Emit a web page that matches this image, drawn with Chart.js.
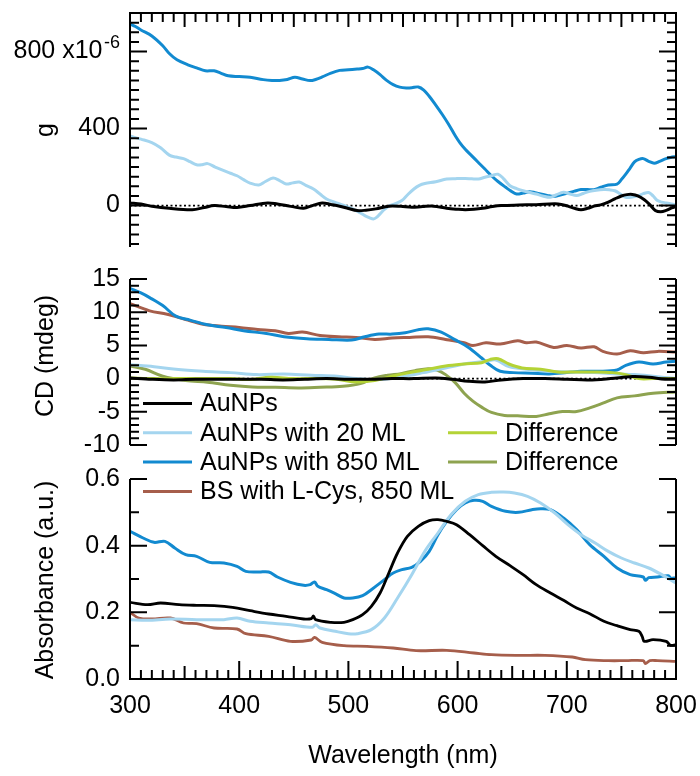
<!DOCTYPE html>
<html>
<head>
<meta charset="utf-8">
<script src="https://cdn.jsdelivr.net/npm/chart.js@4/dist/chart.umd.min.js"></script>
<style>
  html, body { margin: 0; padding: 0; background: #fff; }
  #fig { position: relative; width: 700px; height: 776px; overflow: hidden; }
  #fig canvas { position: absolute; left: 0; }
</style>
</head>
<body>
<div id="fig">
  <canvas id="cTop" width="700" height="262" style="top:0;width:700px;height:262px"></canvas>
  <canvas id="cAbs" width="700" height="311" style="top:465px;width:700px;height:311px"></canvas>
  <canvas id="cCd" width="700" height="258" style="top:262px;width:700px;height:258px"></canvas>
</div>
<script>
// ---- series: [wavelength (nm), value] ----
// g-factor (x10^-6)
const gAuNPs = [[300,14],[310,8],[320,-3],[336,-14],[357,-21],[368,-10],[377,0],[388,-5],[398,-10],[410,0],[426,14],[435,8],[443,0],[451,-8],[459,-14],[467,0],[476,14],[484,6],[492,-3],[500,-15],[508,-26],[516,-24],[525,-17],[537,-3],[548,-4],[558,-9],[568,-5],[578,-3],[590,-14],[600,-19],[607,-21],[615,-19],[623,-14],[632,-5],[640,0],[656,3],[672,5],[689,9],[695,6],[701,-3],[707,-14],[713,-21],[719,-14],[725,-3],[731,4],[738,18],[744,35],[750,50],[755,57],[760,58],[765,50],[771,30],[776,5],[781,-25],[786,-32],[791,-25],[796,-12],[800,-5]];
const g20ML = [[300,361],[310,345],[320,327],[328,300],[336,262],[342,252],[349,244],[355,228],[361,212],[366,212],[371,218],[378,200],[386,181],[392,168],[398,155],[404,135],[410,117],[418,107],[424,125],[431,143],[437,130],[443,112],[449,118],[455,122],[461,105],[468,86],[474,60],[480,34],[486,20],[492,9],[498,-4],[504,-17],[510,-35],[515,-52],[519,-62],[523,-69],[526,-60],[529,-43],[533,-20],[537,-3],[543,10],[549,26],[554,55],[560,86],[565,105],[570,115],[580,124],[590,138],[598,140],[607,141],[613,139],[619,138],[625,147],[631,155],[637,163],[642,140],[648,103],[654,88],[660,77],[666,68],[672,60],[678,50],[685,43],[690,55],[697,69],[703,60],[709,52],[715,63],[721,74],[727,80],[734,83],[739,82],[744,77],[749,60],[754,43],[760,45],[766,52],[770,62],[775,68],[779,50],[783,26],[787,18],[791,14],[796,8],[800,3]];
const g850ML = [[300,943],[305,930],[310,912],[320,881],[330,830],[336,790],[343,757],[353,731],[361,715],[369,700],[377,700],[383,688],[390,674],[400,670],[410,666],[422,654],[430,650],[437,650],[444,655],[451,666],[458,657],[465,649],[470,655],[476,668],[484,688],[492,702],[500,705],[508,709],[513,712],[518,719],[523,705],[529,680],[535,650],[541,628],[547,615],[553,611],[558,612],[564,616],[569,600],[574,568],[580,522],[586,473],[592,420],[598,361],[602,327],[607,292],[613,258],[619,224],[625,190],[631,155],[637,125],[644,95],[649,75],[654,60],[660,65],[666,72],[671,67],[676,60],[682,53],[688,48],[694,55],[701,65],[707,75],[713,83],[719,83],[725,83],[731,95],[738,107],[746,112],[750,135],[754,163],[758,195],[762,227],[766,240],[770,244],[775,230],[780,220],[785,230],[791,244],[795,250],[800,255]];

// CD (mdeg)
const cdAuNPs = [[300,0.1],[320,-0.1],[340,-0.2],[360,-0.1],[380,-0.1],[400,-0.1],[420,-0.1],[440,-0.2],[460,-0.1],[480,0],[500,-0.1],[520,-0.1],[540,0],[560,0],[580,0.1],[595,-0.1],[610,-0.4],[625,-0.5],[640,-0.2],[660,0],[680,0],[700,-0.1],[720,-0.2],[740,0],[760,0.3],[775,0.2],[790,-0.1],[800,-0.1]];
const cd20ML = [[300,2.1],[322,1.8],[342,1.4],[367,1.1],[392,0.9],[416,0.6],[441,0.7],[466,0.5],[490,0.35],[507,0],[527,-0.15],[548,0.25],[569,0.9],[589,1.6],[610,2.3],[626,2.6],[635,2.8],[647,1.8],[663,1.4],[684,1.1],[704,1.0],[725,0.9],[746,0.7],[762,0.6],[779,0.35],[800,0]];
const cd850ML = [[300,13.6],[310,12.9],[318,12.2],[330,11],[342,9.4],[355,8.8],[371,8.1],[388,7.7],[404,7.2],[425,6.8],[441,6.3],[462,6.0],[482,5.9],[503,5.8],[515,6.3],[528,6.7],[540,6.7],[552,6.9],[565,7.4],[573,7.5],[585,7.0],[597,5.9],[610,4.7],[622,3.1],[630,2.0],[639,1.1],[651,0.9],[668,0.8],[684,0.7],[700,0.9],[713,1.1],[729,1.1],[746,1.3],[754,2.0],[766,2.5],[779,2.2],[791,2.5],[800,2.6]];
const cdBSCys = [[300,11.3],[318,10.2],[334,9.7],[351,8.9],[367,8.2],[384,7.9],[400,7.7],[417,7.4],[433,7.2],[445,6.8],[458,7.0],[474,6.5],[491,6.3],[507,6.2],[524,5.9],[540,6.1],[556,6.2],[573,6.3],[589,5.9],[606,5.4],[614,5.0],[626,5.4],[639,5.2],[655,5.7],[663,5.4],[672,5.5],[688,4.7],[700,5.0],[713,4.6],[725,4.8],[733,4.1],[746,3.7],[758,4.2],[770,3.9],[783,4.1],[800,4.0]];
const cdDiff20 = [[300,0.1],[322,0],[342,0],[367,0],[392,0],[408,-0.15],[429,0.2],[449,0],[474,0],[491,-0.15],[507,-0.5],[524,-0.3],[540,0.35],[556,0.9],[573,1.4],[589,1.9],[606,2.2],[622,2.4],[630,2.9],[637,3.0],[647,2.2],[659,1.6],[676,1.4],[692,1.0],[709,1.0],[725,1.0],[742,0.9],[754,0.6],[766,0],[779,0],[800,0]];
const cdDiff850 = [[300,1.9],[314,1.4],[330,0.35],[351,-0.3],[371,-0.55],[392,-1.0],[412,-1.26],[433,-1.3],[454,-1.4],[474,-1.3],[495,-1.15],[511,-0.75],[524,0.1],[536,0.5],[548,0.75],[561,1.2],[573,1.5],[581,1.3],[589,0.6],[598,-0.65],[606,-2.2],[614,-3.4],[622,-4.3],[631,-5.1],[643,-5.55],[655,-5.6],[672,-5.7],[684,-5.3],[696,-4.95],[709,-4.95],[721,-4.4],[733,-3.7],[746,-2.9],[762,-2.6],[779,-2.2],[800,-2.0]];

// Absorbance (a.u.)
const absAuNPs = [[300,0.23],[316,0.223],[328,0.228],[345,0.223],[361,0.221],[377,0.22],[394,0.215],[410,0.205],[427,0.195],[443,0.188],[459,0.18],[466,0.181],[468,0.189],[470,0.178],[484,0.17],[496,0.17],[504,0.178],[513,0.193],[521,0.218],[529,0.258],[537,0.318],[545,0.378],[554,0.428],[564,0.458],[574,0.475],[582,0.478],[590,0.473],[599,0.463],[611,0.433],[623,0.40],[635,0.368],[648,0.34],[660,0.313],[672,0.283],[685,0.258],[697,0.236],[709,0.213],[721,0.196],[734,0.173],[746,0.16],[758,0.148],[766,0.143],[769,0.128],[771,0.113],[779,0.118],[791,0.113],[795,0.101],[800,0.103]];
const abs20ML = [[300,0.178],[316,0.176],[337,0.18],[361,0.178],[386,0.178],[398,0.183],[410,0.173],[427,0.168],[447,0.163],[467,0.155],[470,0.163],[474,0.153],[488,0.143],[500,0.136],[508,0.136],[521,0.148],[533,0.183],[545,0.243],[558,0.313],[570,0.383],[582,0.438],[594,0.493],[607,0.533],[619,0.553],[631,0.56],[642,0.561],[652,0.558],[664,0.548],[676,0.528],[689,0.498],[701,0.463],[713,0.433],[726,0.408],[738,0.383],[750,0.363],[762,0.348],[775,0.333],[787,0.313],[800,0.288]];
const abs850ML = [[300,0.443],[312,0.423],[322,0.41],[332,0.413],[341,0.393],[351,0.373],[361,0.368],[373,0.35],[386,0.348],[398,0.338],[406,0.323],[418,0.321],[427,0.321],[435,0.306],[447,0.29],[459,0.281],[465,0.283],[469,0.291],[472,0.278],[480,0.268],[488,0.256],[496,0.243],[504,0.243],[513,0.25],[521,0.268],[533,0.298],[541,0.318],[549,0.328],[558,0.335],[566,0.353],[574,0.383],[582,0.433],[590,0.473],[599,0.508],[607,0.528],[615,0.536],[623,0.533],[631,0.518],[644,0.503],[656,0.50],[668,0.508],[676,0.511],[685,0.508],[697,0.483],[709,0.448],[721,0.403],[734,0.368],[746,0.333],[758,0.313],[770,0.306],[772,0.296],[775,0.304],[783,0.306],[793,0.31],[795,0.303],[800,0.303]];
const absBSCys = [[300,0.20],[308,0.183],[320,0.18],[337,0.183],[349,0.168],[361,0.166],[377,0.153],[398,0.15],[406,0.136],[427,0.128],[447,0.113],[466,0.117],[469,0.125],[476,0.11],[496,0.10],[517,0.098],[541,0.093],[562,0.085],[590,0.086],[615,0.078],[631,0.073],[656,0.071],[680,0.071],[705,0.066],[717,0.058],[738,0.055],[754,0.055],[770,0.055],[772,0.046],[776,0.055],[783,0.055],[800,0.053]];

// axis tick labels
const xTickLabels = [300, 400, 500, 600, 700, 800];
const gTickLabels = [0, 400, 800];
const cdTickLabels = [-10, -5, 0, 5, 10, 15];
const absTickLabels = [0, 0.2, 0.4, 0.6];

// ---- styling ----
const FONT = '"Liberation Sans", Arial, Helvetica, sans-serif';
Chart.defaults.font.family = FONT;
Chart.defaults.font.size = 25;
Chart.defaults.color = '#000';

const COL = {
  au: '#000000',
  ml20: '#a4d5ef',
  ml850: '#128ad0',
  bs: '#a65e4b',
  d20: '#b4d336',
  d850: '#8ea350'
};

function line(label, pts, color, order, width) {
  return {
    label,
    data: pts.map(([x, y]) => ({ x, y })),
    borderColor: color,
    backgroundColor: color,
    borderWidth: width || 3,
    pointRadius: 0,
    tension: 0.35,
    fill: false,
    order
  };
}

// frame, inward tick marks, dotted zero line, axis titles
const framePlugin = {
  id: 'frame',
  beforeDatasetsDraw(chart, args, o) {
    if (!o.zeroLine) return;
    const { ctx, chartArea: a } = chart;
    const py = chart.scales.y.getPixelForValue(0);
    ctx.save();
    ctx.strokeStyle = '#000';
    ctx.lineWidth = 1.6;
    ctx.setLineDash([2, 2.5]);
    ctx.beginPath();
    ctx.moveTo(a.left, py);
    ctx.lineTo(a.right, py);
    ctx.stroke();
    ctx.restore();
  },
  afterDatasetsDraw(chart, args, o) {
    const { ctx, chartArea: a } = chart;
    const xs = chart.scales.x, ys = chart.scales.y;
    const mult = (v, s) => Math.abs(v / s - Math.round(v / s)) < 1e-6;
    ctx.save();
    ctx.strokeStyle = '#000';
    ctx.lineWidth = 2;
    ctx.lineCap = 'butt';
    ctx.beginPath();
    ctx.moveTo(a.left, a.top - (o.topEdge ? 1 : 0));
    ctx.lineTo(a.left, a.bottom + (o.bottomEdge ? 1 : 0));
    ctx.moveTo(a.right, a.top - (o.topEdge ? 1 : 0));
    ctx.lineTo(a.right, a.bottom + (o.bottomEdge ? 1 : 0));
    if (o.topEdge) { ctx.moveTo(a.left, a.top); ctx.lineTo(a.right, a.top); }
    if (o.bottomEdge) { ctx.moveTo(a.left, a.bottom); ctx.lineTo(a.right, a.bottom); }
    const i0 = Math.ceil(ys.min / o.yMinor - 1e-6), i1 = Math.floor(ys.max / o.yMinor + 1e-6);
    for (let i = i0; i <= i1; i++) {
      const v = i * o.yMinor;
      const len = mult(v, o.yMajor) ? 17 : 9;
      const py = ys.getPixelForValue(v);
      ctx.moveTo(a.left, py); ctx.lineTo(a.left + len, py);
      ctx.moveTo(a.right, py); ctx.lineTo(a.right - len, py);
    }
    if (o.xEdge) {
      const ey = o.xEdge === 'top' ? a.top : a.bottom;
      const dir = o.xEdge === 'top' ? 1 : -1;
      for (let v = xs.min; v <= xs.max; v += o.xMinor) {
        let len = o.xLen[0];
        if (o.xMajor && mult(v, o.xMajor)) len = o.xLen[2];
        else if (mult(v, o.xMid)) len = o.xLen[1];
        const px = xs.getPixelForValue(v);
        ctx.moveTo(px, ey); ctx.lineTo(px, ey + dir * len);
      }
    }
    ctx.stroke();
    ctx.restore();
  },
  afterDraw(chart, args, o) {
    const { ctx, chartArea: a } = chart;
    ctx.save();
    ctx.fillStyle = '#000';
    ctx.font = `25px ${FONT}`;
    ctx.textAlign = 'center';
    ctx.textBaseline = 'middle';
    (o.titles || []).forEach(t => {
      ctx.save();
      ctx.translate(t.x, t.y);
      if (t.rotate) ctx.rotate(-Math.PI / 2);
      ctx.fillText(t.text, 0, 0);
      ctx.restore();
    });
    // exponent after the scaled tick label
    if (o.exponent) {
      const py = chart.scales.y.getPixelForValue(o.exponent.value);
      ctx.font = `18px ${FONT}`;
      ctx.textAlign = 'right';
      ctx.textBaseline = 'alphabetic';
      ctx.fillText(o.exponent.text, a.left - 10, py - 4);
    }
    ctx.restore();
  }
};

// legend drawn from the CD panel's datasets
const legendSlots = [[0, 0], [0, 1], [0, 2], [0, 3], [1, 1], [1, 2]];
const legendPlugin = {
  id: 'panelLegend',
  afterDraw(chart, args, o) {
    const { ctx } = chart;
    ctx.save();
    ctx.font = `25px ${FONT}`;
    ctx.textAlign = 'left';
    ctx.textBaseline = 'middle';
    chart.data.datasets.forEach((d, i) => {
      const [col, row] = legendSlots[i];
      const x0 = o.colX[col];
      const y = o.rowY0 + row * o.rowStep;
      ctx.strokeStyle = d.borderColor;
      ctx.lineWidth = 3;
      ctx.beginPath();
      ctx.moveTo(x0, y);
      ctx.lineTo(x0 + o.sample, y);
      ctx.stroke();
      ctx.fillStyle = '#000';
      ctx.fillText(d.label, x0 + o.sample + o.gap, y + 1);
    });
    ctx.restore();
  }
};

// fixed-size axes: no extra room reserved for labels that overhang the plot edges
function yAxis(min, max, labels, fmt) {
  return {
    type: 'linear', min, max,
    grid: { display: false, drawTicks: false },
    border: { display: false },
    afterFit: s => { s.width = 130; s.paddingTop = 0; s.paddingBottom = 0; },
    afterBuildTicks: s => { s.ticks = labels.map(v => ({ value: v })); },
    ticks: { padding: 10, callback: fmt, autoSkip: false }
  };
}
const hiddenX = { type: 'linear', min: 300, max: 800, display: false };

const common = {
  responsive: false,
  animation: false,
  events: [],
  plugins: { legend: { display: false }, tooltip: { enabled: false } }
};

// g-factor panel
new Chart(document.getElementById('cTop'), {
  type: 'line',
  data: {
    datasets: [
      line('AuNPs', gAuNPs, COL.au, 0),
      line('AuNPs with 20 ML', g20ML, COL.ml20, 1),
      line('AuNPs with 850 ML', g850ML, COL.ml850, 2)
    ]
  },
  options: {
    ...common,
    layout: { padding: { left: 0, right: 24, top: 13, bottom: 15 } },
    scales: {
      x: hiddenX,
      y: yAxis(-215, 1000, gTickLabels, v => v === 800 ? '800 x10\u2002\u2009' : String(v))
    },
    plugins: {
      ...common.plugins,
      frame: {
        zeroLine: true, topEdge: true, yMinor: 50, yMajor: 400,
        xEdge: 'top', xMinor: 10, xMid: 50, xMajor: 0, xLen: [9, 14, 14],
        exponent: { value: 800, text: '-6' },
        titles: [{ text: 'g', x: 46, y: 130, rotate: true }]
      }
    }
  },
  plugins: [framePlugin]
});

// CD panel
new Chart(document.getElementById('cCd'), {
  type: 'line',
  data: {
    datasets: [
      line('AuNPs', cdAuNPs, COL.au, 0),
      line('AuNPs with 20 ML', cd20ML, COL.ml20, 2),
      line('AuNPs with 850 ML', cd850ML, COL.ml850, 4),
      line('BS with L-Cys, 850 ML', cdBSCys, COL.bs, 5),
      line('Difference', cdDiff20, COL.d20, 1),
      line('Difference', cdDiff850, COL.d850, 3)
    ]
  },
  options: {
    ...common,
    layout: { padding: { left: 0, right: 24, top: 17, bottom: 75 } },
    scales: {
      x: hiddenX,
      y: yAxis(-10, 15, cdTickLabels, v => String(v))
    },
    plugins: {
      ...common.plugins,
      frame: {
        zeroLine: true, yMinor: 1, yMajor: 5,
        titles: [{ text: 'CD (mdeg)', x: 46, y: 94, rotate: true }]
      },
      panelLegend: { colX: [143, 448], sample: 49, gap: 8, rowY0: 141.5, rowStep: 29.3 }
    }
  },
  plugins: [framePlugin, legendPlugin]
});

// absorbance panel
new Chart(document.getElementById('cAbs'), {
  type: 'line',
  data: {
    datasets: [
      line('AuNPs', absAuNPs, COL.au, 0, 2.8),
      line('AuNPs with 20 ML', abs20ML, COL.ml20, 1),
      line('AuNPs with 850 ML', abs850ML, COL.ml850, 2),
      line('BS with L-Cys, 850 ML', absBSCys, COL.bs, 3, 2.8)
    ]
  },
  options: {
    ...common,
    layout: { padding: { left: 0, right: 24, top: 14, bottom: 0 } },
    scales: {
      x: {
        type: 'linear', min: 300, max: 800,
        grid: { display: false, drawTicks: false },
        border: { display: false },
        afterFit: s => { s.height = 97; s.paddingLeft = 0; s.paddingRight = 0; },
        afterBuildTicks: s => { s.ticks = xTickLabels.map(v => ({ value: v })); },
        ticks: { padding: 12, maxRotation: 0, autoSkip: false, callback: v => String(v) }
      },
      y: yAxis(0, 0.6, absTickLabels, v => v.toFixed(1))
    },
    plugins: {
      ...common.plugins,
      frame: {
        bottomEdge: true, yMinor: 0.1, yMajor: 0.2,
        xEdge: 'bottom', xMinor: 10, xMid: 50, xMajor: 100, xLen: [9, 13, 18],
        titles: [
          { text: 'Absorbance (a.u.)', x: 46, y: 115, rotate: true },
          { text: 'Wavelength (nm)', x: 403, y: 291 }
        ]
      }
    }
  },
  plugins: [framePlugin]
});
</script>
</body>
</html>
